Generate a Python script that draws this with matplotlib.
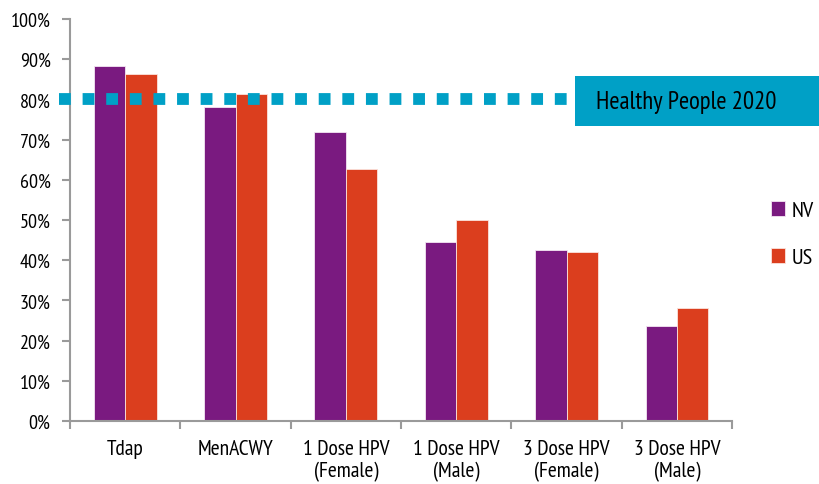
import numpy as np
import matplotlib.pyplot as plt
from matplotlib.patches import Rectangle

plt.rcParams['font.family'] = ['PT Sans Narrow', 'DejaVu Sans']
plt.rcParams['font.stretch'] = 'condensed'

categories = ['Tdap', 'MenACWY', '1 Dose HPV\n(Female)', '1 Dose HPV\n(Male)',
              '3 Dose HPV\n(Female)', '3 Dose HPV\n(Male)']
nv = [88.2, 78.0, 71.9, 44.5, 42.5, 23.6]
us = [86.3, 81.2, 62.7, 49.9, 41.9, 28.2]
target = 80
target_label = 'Healthy People 2020'

purple = '#7A1A80'
orange = '#DB3E1E'
cyan = '#00A0C6'
grey = '#9A9A9A'

fig = plt.figure(figsize=(8.19, 4.85), dpi=100)
ax = fig.add_axes([0.0855, 0.130, 0.8085, 0.829])

x = np.arange(len(categories))
w = 0.285
ax.bar(x - w / 2, nv, w, color=purple, edgecolor='#f3e6f3', linewidth=0.6, label='NV', zorder=2)
ax.bar(x + w / 2, us, w, color=orange, edgecolor='#fbe3dc', linewidth=0.6, label='US', zorder=2)

# dotted target line, drawn over the bars and into the label box
ax.plot([-0.6, 4.16], [target, target], color=cyan, linewidth=8.5,
        linestyle=(0, (1.0, 1.0)), solid_capstyle='butt', dash_capstyle='butt',
        clip_on=False, zorder=3)

fig.patches.append(Rectangle((0.702, 0.738), 0.35, 0.103, transform=fig.transFigure,
                             facecolor=cyan, edgecolor='none', zorder=4))
fig.text(0.728, 0.789, target_label, fontsize=17.8, va='center', ha='left', zorder=5)

ax.set_xlim(-0.5, len(categories) - 0.5)
ax.set_ylim(0, 100)
ax.set_yticks(np.arange(0, 101, 10))
ax.set_yticklabels([f'{v}%' for v in range(0, 101, 10)])
ax.set_xticks(x)
ax.set_xticklabels(categories)
ax.set_xticks(np.arange(-0.5, len(categories), 1), minor=True)

for s in ['top', 'right']:
    ax.spines[s].set_visible(False)
for s in ['left', 'bottom']:
    ax.spines[s].set_color(grey)
    ax.spines[s].set_linewidth(1.5)

ax.tick_params(axis='y', length=6, width=1.5, color=grey, pad=8, labelsize=14.5)
ax.tick_params(axis='x', which='major', length=0, pad=13, labelsize=15.5)
ax.tick_params(axis='x', which='minor', length=6, width=1.5, color=grey)

fig.legend(loc='upper left', bbox_to_anchor=(0.941, 0.583), frameon=False,
           fontsize=16, handlelength=0.65, handleheight=0.65, handletextpad=0.3,
           labelspacing=1.25, borderpad=0, borderaxespad=0)

plt.savefig('out.png', dpi=100)
